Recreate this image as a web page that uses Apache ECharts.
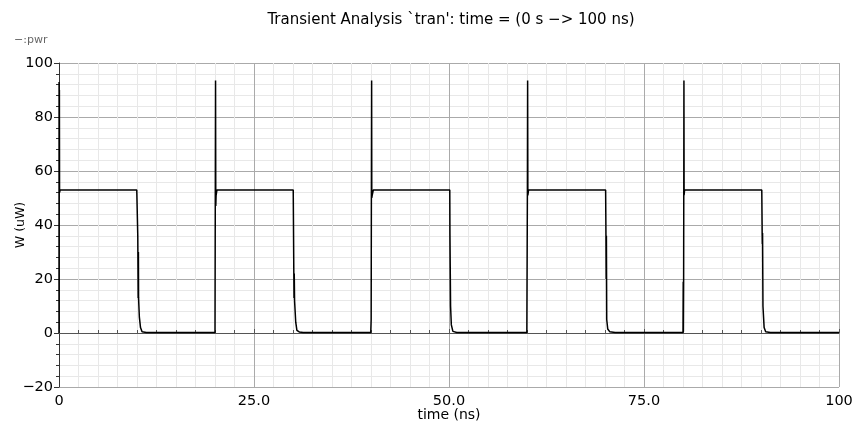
<!DOCTYPE html>
<html>
<head>
    <meta charset="UTF-8">
    <title>Transient Analysis</title>
    <script src="https://cdn.jsdelivr.net/npm/echarts@6/dist/echarts.min.js"></script>
    <style>
        html, body { margin: 0; padding: 0; background: #fff; }
        #main { width: 856px; height: 426px; }
    </style>
</head>
<body>
<div id="main"></div>
<script type="text/javascript">
    // time (ns) / pwr (uW)
    var time = [
        0, 0.01, 0.03, 0.05, 0.07, 0.15, 9.97,
        10.1, 10.15, 10.18, 10.2, 10.3, 10.45, 10.65, 11.2, 20.0,
        20.04, 20.07, 20.1, 20.14, 20.25, 30.03,
        30.1, 30.13, 30.16, 30.2, 30.35, 30.5, 30.8, 31.3, 39.97,
        40.02, 40.05, 40.08, 40.1, 40.15, 40.3, 50.1,
        50.12, 50.15, 50.2, 50.3, 50.5, 51.0, 59.98,
        60.05, 60.08, 60.11, 60.2, 70.08,
        70.12, 70.15, 70.18, 70.22, 70.35, 70.6, 71.3, 80.0,
        80.03, 80.05, 80.08, 80.1, 80.12, 80.14, 80.2, 90.1,
        90.15, 90.17, 90.2, 90.25, 90.4, 90.6, 91.2, 100
    ];
    var pwr = [
        0, 93, 52, 90, 52, 53, 53,
        36, 13, 30, 13, 6, 2, 0.5, 0.2, 0.2,
        0.5, 93.5, 47, 51, 53, 53,
        24, 13, 22, 12, 4, 1, 0.4, 0.2, 0.2,
        5, 52, 93.5, 50, 51, 53, 53,
        37, 37.5, 10, 3, 0.6, 0.2, 0.2,
        52, 93.5, 51, 53, 53,
        37, 20, 36, 5, 1.5, 0.5, 0.2, 0.2,
        19, 0.5, 19, 52, 93.5, 51, 53, 53,
        37, 33, 37, 10, 2, 0.5, 0.2, 0.2
    ];
    var xTicks = [0, 25, 50, 75, 100];
    var xTickLabels = ['0', '25.0', '50.0', '75.0', '100'];

    var seriesData = [];
    for (var i = 0; i < time.length; i++) {
        seriesData.push([time[i], pwr[i]]);
    }

    var font = 'DejaVu Sans';

    echarts.init(document.getElementById('main')).setOption({
        animation: false,
        backgroundColor: '#fff',
        title: {
            text: 'Transient Analysis `tran\': time = (0 s \u2212> 100 ns)',
            left: 446,
            textAlign: 'center',
            top: 8,
            textStyle: {fontFamily: font, fontSize: 15, fontWeight: 'normal', color: '#000'}
        },
        graphic: [{
            type: 'text',
            left: 14,
            top: 35,
            style: {text: '\u2212:pwr', fontFamily: font, fontSize: 11, fill: '#666'}
        }],
        grid: {left: 59, right: 17, top: 63, bottom: 39, outerBoundsMode: 'none'},
        xAxis: {
            type: 'value',
            min: 0,
            max: 100,
            interval: 25,
            name: 'time (ns)',
            nameLocation: 'middle',
            nameGap: 21,
            nameMoveOverlap: false,
            nameTextStyle: {fontFamily: font, fontSize: 14, color: '#000'},
            axisLine: {lineStyle: {color: '#555', width: 1}},
            axisTick: {show: true, inside: true, length: 4, lineStyle: {color: '#555'}},
            minorTick: {show: true, splitNumber: 10, length: 3, lineStyle: {color: '#555'}},
            axisLabel: {
                fontFamily: font, fontSize: 14.5, color: '#000', margin: 7,
                formatter: function (v) {
                    var k = xTicks.indexOf(v);
                    return k >= 0 ? xTickLabels[k] : '';
                }
            },
            splitLine: {show: true, lineStyle: {color: '#aaa', width: 1}},
            minorSplitLine: {show: true, lineStyle: {color: '#e8e8e8', width: 1}}
        },
        yAxis: {
            type: 'value',
            min: -20,
            max: 100,
            interval: 20,
            name: 'W (uW)',
            nameLocation: 'middle',
            nameGap: 32,
            nameMoveOverlap: false,
            nameTextStyle: {fontFamily: font, fontSize: 12.5, color: '#000'},
            axisLine: {show: true, lineStyle: {color: '#333', width: 1}},
            axisTick: {show: true, length: 5, lineStyle: {color: '#333'}},
            minorTick: {show: true, splitNumber: 5, length: 3, lineStyle: {color: '#333'}},
            axisLabel: {
                fontFamily: font, fontSize: 14.5, color: '#000', margin: 6,
                formatter: function (v) { return String(v).replace('-', '\u2212'); }
            },
            splitLine: {show: true, lineStyle: {color: '#aaa', width: 1}},
            minorSplitLine: {show: true, lineStyle: {color: '#e8e8e8', width: 1}}
        },
        series: [{
            name: 'pwr',
            type: 'line',
            data: seriesData,
            symbol: 'none',
            lineStyle: {color: '#000', width: 1.5},
            itemStyle: {color: '#000'}
        }]
    });
</script>
</body>
</html>
